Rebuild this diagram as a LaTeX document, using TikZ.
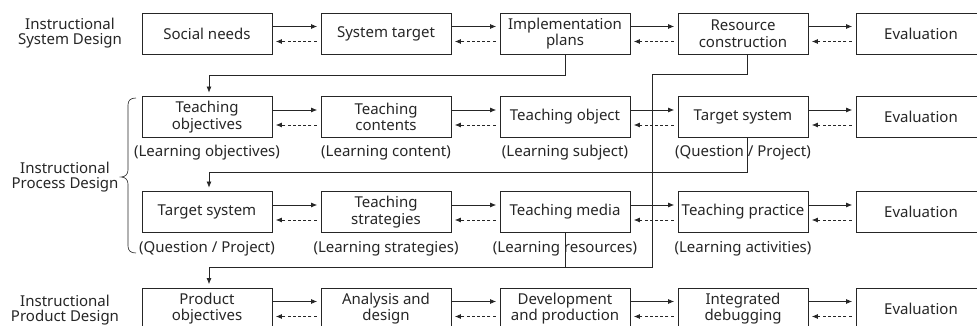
\documentclass[tikz,border=0pt]{standalone}
\usepackage{fontspec}
\setmainfont{Noto Sans}
\usetikzlibrary{arrows.meta}
\definecolor{ink}{gray}{0.15}
\begin{document}
\begin{tikzpicture}[x=1pt,y=1pt,
  box/.style={draw=ink, line width=0.8pt, minimum width=130pt, minimum height=41pt,
    inner sep=0pt, align=center, font=\fontsize{15}{16.5}\selectfont, text=ink},
  note/.style={font=\fontsize{15}{16}\selectfont, text=ink, inner sep=0pt},
  side/.style={align=center, font=\fontsize{15}{15.5}\selectfont, text=ink, inner sep=0pt},
  conn/.style={draw=ink, line width=0.7pt},
  tip/.style={-{Latex[length=6pt,width=5pt]}, shorten >=3.5pt},
  fwd/.style={conn, tip},
  bwd/.style={conn, tip, shorten <=4pt, dash pattern=on 3pt off 2.2pt},
]
\useasboundingbox (0,0) rectangle (977,326);

% side headings
\node[side] (h1) at (70,293) {Instructional\\System Design};
\node[side] (h2) at (65,149) {Instructional\\Process Design};
\node[side] (h3) at (65,16) {Instructional\\Product Design};

% row 1: system design
\node[box] (a1) at (207,292.5) {Social needs};
\node[box] (a2) at (386,292.5) {System target};
\node[box] (a3) at (565,292.5) {Implementation\\plans};
\node[box] (a4) at (743,292.5) {Resource\\construction};
\node[box] (a5) at (921,292.5) {Evaluation};

% row 2: process design (first line)
\node[box] (b1) at (207,209) {Teaching\\objectives};
\node[box] (b2) at (386,209) {Teaching\\contents};
\node[box] (b3) at (565,209) {Teaching object};
\node[box] (b4) at (743,209) {Target system};
\node[box] (b5) at (921,209) {Evaluation};
\node[note] (nb1) at (207,173) {(Learning objectives)};
\node[note] (nb2) at (386,173) {(Learning content)};
\node[note] (nb3) at (565,173) {(Learning subject)};
\node[note] (nb4) at (743,173) {(Question / Project)};

% row 3: process design (second line)
\node[box] (c1) at (207,114) {Target system};
\node[box] (c2) at (386,114) {Teaching\\strategies};
\node[box] (c3) at (565,114) {Teaching media};
\node[box] (c4) at (743,114) {Teaching practice};
\node[box] (c5) at (921,114) {Evaluation};
\node[note] (nc1) at (207,77) {(Question / Project)};
\node[note] (nc2) at (386,77) {(Learning strategies)};
\node[note] (nc3) at (565,77) {(Learning resources)};
\node[note] (nc4) at (743,77) {(Learning activities)};

% row 4: product design
\node[box] (d1) at (207,17.5) {Product\\objectives};
\node[box] (d2) at (386,17.5) {Analysis and\\design};
\node[box] (d3) at (565,17.5) {Development\\and production};
\node[box] (d4) at (743,17.5) {Integrated\\debugging};
\node[box] (d5) at (921,17.5) {Evaluation};

% forward (solid) and feedback (dashed) arrows along each row
\foreach \r in {a,b,c,d}{
  \foreach \i/\j in {1/2,2/3,3/4,4/5}{
    \draw[fwd] ([yshift=7pt]\r\i.east) -- ([yshift=7pt]\r\j.west);
    \draw[bwd] ([yshift=-8pt]\r\j.west) -- ([yshift=-8pt]\r\i.east);
  }
}

% links between the rows
\coordinate (k1) at (652,252);
\coordinate (k2) at (652,59);
\draw[conn, tip] (a3.south) -- ++(0,-21) -| ([xshift=2pt]b1.north);
\draw[conn, tip] ([xshift=4pt]b4.south) -- ++(0,-34.5) -| ([xshift=2pt]c1.north);
\draw[conn, tip] ([xshift=4pt]a4.south) |- (k1) -- (k2) -| ([xshift=2pt]d1.north);
\draw[conn] (c3.south) -- (c3.south |- k2);

% brace grouping the process design rows
\draw[conn, line width=0.6pt]
  (136,228) .. controls (131,228) and (128,226) .. (128,221)
  -- (128,156) .. controls (128,151.5) and (125,149) .. (121,149)
  .. controls (125,149) and (128,146.5) .. (128,142)
  -- (128,80) .. controls (128,75) and (131,73) .. (136,73);
\end{tikzpicture}
\end{document}
